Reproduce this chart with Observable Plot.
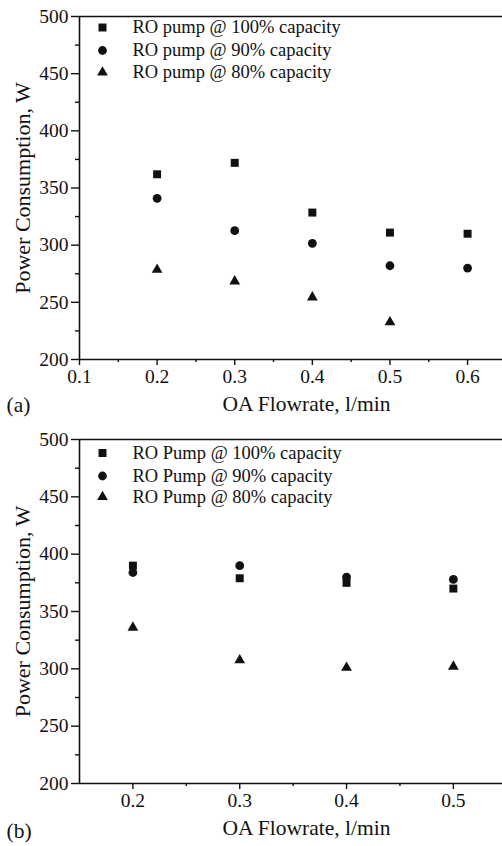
<!DOCTYPE html>
<html>
<head>
<meta charset="utf-8">
<script src="https://cdn.jsdelivr.net/npm/d3@7"></script>
<script src="https://cdn.jsdelivr.net/npm/@observablehq/plot@0.6"></script>
<style>
  html, body { margin: 0; padding: 0; background: #fff; }
  #charts { width: 502px; }
  #charts svg { display: block; }
</style>
</head>
<body>
<div id="charts"></div>
<script>
// ---------- data ----------
const symbols = ["square", "circle", "triangle"];

// Panel (a)
const seriesA = ["RO pump @ 100% capacity", "RO pump @ 90% capacity", "RO pump @ 80% capacity"];
const xA100 = [0.2, 0.3, 0.4, 0.5, 0.6];
const yA100 = [362, 372, 328.5, 311, 310];
const xA90 = [0.2, 0.3, 0.4, 0.5, 0.6];
const yA90 = [341, 312.7, 301.6, 282, 280];
const xA80 = [0.2, 0.3, 0.4, 0.5];
const yA80 = [278.6, 268.4, 254.4, 232.6];
const xDomainA = [0.1, 0.645];
const xTicksA = [0.1, 0.2, 0.3, 0.4, 0.5, 0.6];
const xMinorA = [0.15, 0.25, 0.35, 0.45, 0.55];

// Panel (b)
const seriesB = ["RO Pump @ 100% capacity", "RO Pump @ 90% capacity", "RO Pump @ 80% capacity"];
const xB100 = [0.2, 0.3, 0.4, 0.5];
const yB100 = [390, 379, 375, 370];
const xB90 = [0.2, 0.3, 0.4, 0.5];
const yB90 = [384, 390, 380, 378];
const xB80 = [0.2, 0.3, 0.4, 0.5];
const yB80 = [336, 307.5, 301, 302];
const xDomainB = [0.15, 0.546];
const xTicksB = [0.2, 0.3, 0.4, 0.5];
const xMinorB = [0.25, 0.35, 0.45];

// shared y axis
const yDomain = [200, 500];
const yTicks = [200, 250, 300, 350, 400, 450, 500];
const yMinor = [225, 275, 325, 375, 425, 475];

const xTitle = "OA Flowrate, l/min";
const yTitle = "Power Consumption, W";

// ---------- drawing ----------
const FONT = "'Liberation Serif', 'Times New Roman', serif";
const INK = "#111";
const symbolR = {square: 4.5, circle: 4.4, triangle: 4.0};

function rows(xs, ys) { return xs.map((x, i) => ({x, y: ys[i]})); }

function panel({tag, series, data, xDomain, xTicks, xMinor, legendDy, tagDy, height, marginBottom}) {
  const marks = [
    // axis lines
    Plot.ruleX([xDomain[0]], {stroke: INK, strokeWidth: 1.6}),
    Plot.ruleY([yDomain[0]], {stroke: INK, strokeWidth: 1.6}),
    Plot.ruleY([yDomain[1]], {stroke: INK, strokeWidth: 1.6}),
    // y axis ticks
    Plot.axisY({ticks: yTicks, tickSize: 8, tickPadding: 3, tickFormat: d3.format("d"),
      fontSize: 19.5, stroke: INK, strokeWidth: 1.4, fill: INK, label: null}),
    Plot.axisY({ticks: yMinor, tickSize: 4, tickFormat: () => "", stroke: INK, strokeWidth: 1.4, label: null}),
    // x axis ticks
    Plot.axisX({ticks: xTicks, tickSize: 6, tickPadding: 4, tickFormat: d3.format(".1f"),
      fontSize: 19.5, stroke: INK, strokeWidth: 1.4, fill: INK, label: null}),
    Plot.axisX({ticks: xMinor, tickSize: 3, tickFormat: () => "", stroke: INK, strokeWidth: 1.4, label: null}),
    // axis titles
    Plot.text([xTitle], {frameAnchor: "bottom", dx: 15.5, dy: 45, lineAnchor: "middle",
      fontSize: 21.5, fill: INK}),
    Plot.text([yTitle], {frameAnchor: "left", dx: -57, rotate: -90, textAnchor: "middle", lineAnchor: "middle",
      fontSize: 22, fill: INK}),
    Plot.text([tag], {frameAnchor: "bottom-left", dx: -73, dy: tagDy, textAnchor: "start", lineAnchor: "middle",
      fontSize: 21.5, fill: INK})
  ];
  data.forEach((d, i) => {
    const sym = symbols[i];
    marks.push(Plot.dot(d, {x: "x", y: "y", symbol: sym, r: symbolR[sym], fill: INK, stroke: "none"}));
    // legend entry
    marks.push(Plot.dot([series[i]], {frameAnchor: "top-left", dx: 23, dy: legendDy[i], symbol: sym,
      r: symbolR[sym], fill: INK, stroke: "none"}));
    marks.push(Plot.text([series[i]], {frameAnchor: "top-left", dx: 53, dy: legendDy[i], textAnchor: "start",
      lineAnchor: "middle", fontSize: 18.5, fill: INK}));
  });
  return Plot.plot({
    width: 502,
    height,
    marginTop: 16,
    marginBottom,
    marginLeft: 79,
    marginRight: 0,
    style: {fontFamily: FONT, background: "#fff", color: INK, overflow: "visible"},
    x: {domain: xDomain, label: null},
    y: {domain: yDomain, label: null},
    marks
  });
}

const root = document.getElementById("charts");
root.appendChild(panel({
  tag: "(a)", series: seriesA,
  data: [rows(xA100, yA100), rows(xA90, yA90), rows(xA80, yA80)],
  xDomain: xDomainA, xTicks: xTicksA, xMinor: xMinorA,
  legendDy: [11, 34, 56], tagDy: 46, height: 423, marginBottom: 64
}));
root.appendChild(panel({
  tag: "(b)", series: seriesB,
  data: [rows(xB100, yB100), rows(xB90, yB90), rows(xB80, yB80)],
  xDomain: xDomainB, xTicks: xTicksB, xMinor: xMinorB,
  legendDy: [13.5, 36.5, 57.5], tagDy: 48, height: 423, marginBottom: 63
}));
</script>
</body>
</html>
